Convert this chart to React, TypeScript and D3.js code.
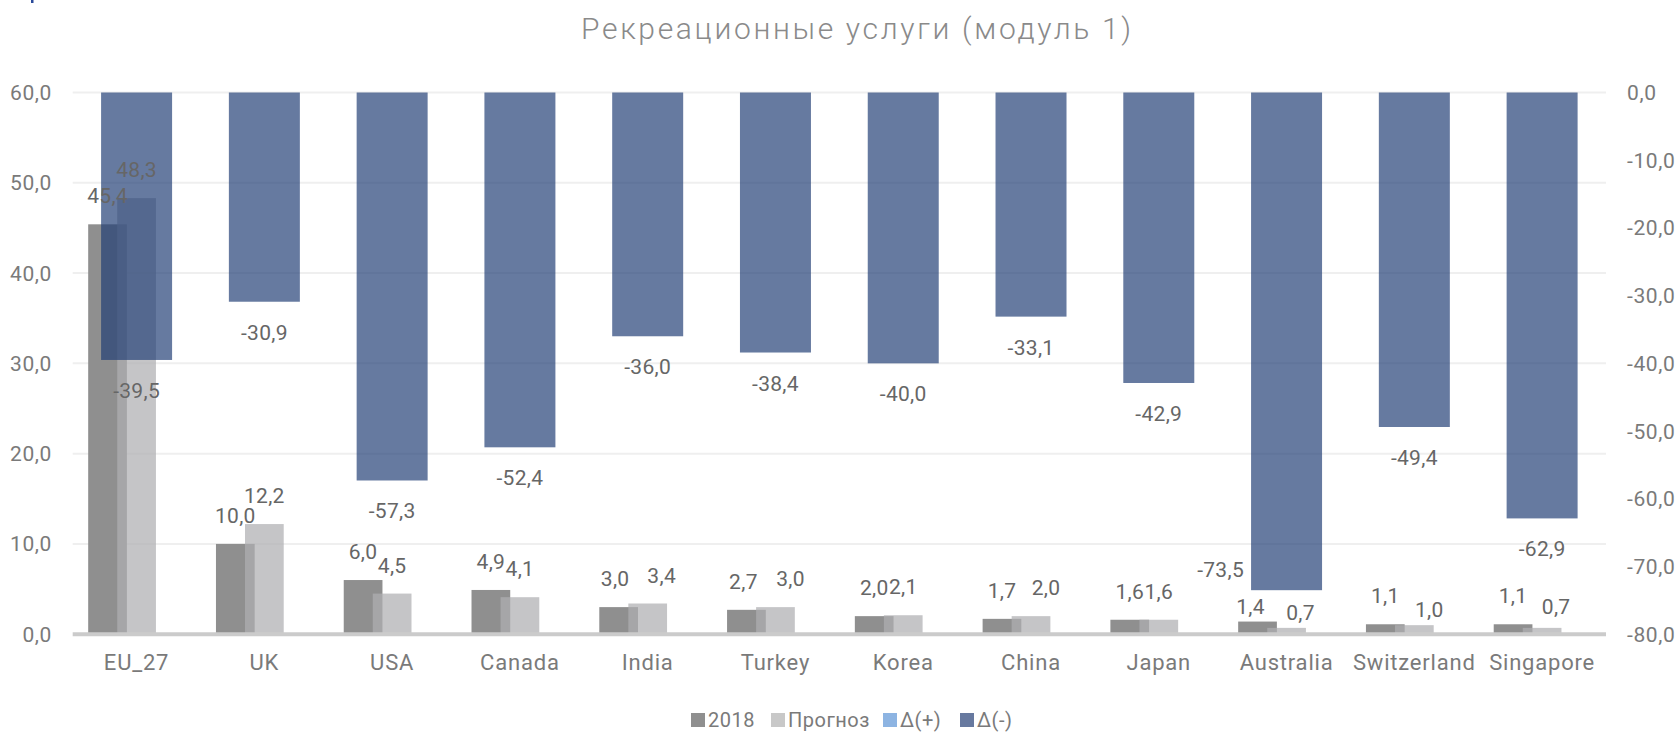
import React from "react";
import * as d3 from "d3";

const categories = ["EU_27", "UK", "USA", "Canada", "India", "Turkey", "Korea", "China", "Japan", "Australia", "Switzerland", "Singapore"];
const values2018 = [45.4, 10.0, 6.0, 4.9, 3.0, 2.7, 2.0, 1.7, 1.6, 1.4, 1.1, 1.1];
const valuesForecast = [48.3, 12.2, 4.5, 4.1, 3.4, 3.0, 2.1, 2.0, 1.6, 0.7, 1.0, 0.7];
const valuesDeltaPlus: (number | null)[] = [null, null, null, null, null, null, null, null, null, null, null, null];
const valuesDeltaMinus = [-39.5, -30.9, -57.3, -52.4, -36.0, -38.4, -40.0, -33.1, -42.9, -73.5, -49.4, -62.9];
const leftTicks = [0, 10, 20, 30, 40, 50, 60];
const rightTicks = [0, -10, -20, -30, -40, -50, -60, -70, -80];
const title = "Рекреационные услуги (модуль 1)";
const legendNames = ["2018", "Прогноз", "Δ(+)", "Δ(-)"];

// layout / style (not data)
const W = 1678, H = 732;
const plotLeft = 72.7, plotRight = 1606, plotTop = 92.5, plotBottom = 634.2;
const colors = { y2018: "#8f8f8f", forecast: "#afafb2", plus: "#8db4e2", minus: "#223e75" };
const legendColors = ["#8f8f8f", "#c8c8c8", "#8db4e2", "#67799f"];
const labelColor = "#666666";
const axisColor = "#7a7a7a";
const font = "Roboto, 'Noto Sans', sans-serif";

// manual label nudges (layout)
const nudge: Record<string, { dx?: number; dy?: number }> = {
  "2018|India": { dx: -3.5 },
  "2018|Turkey": { dx: -3 },
  "2018|Australia": { dx: -7, dy: 13 },
  "f|India": { dx: 14 },
  "f|Turkey": { dx: 15 },
  "f|China": { dx: 15 },
  "f|Australia": { dx: 14, dy: 13 },
  "f|Switzerland": { dx: 15, dy: 13 },
  "f|Singapore": { dx: 14, dy: 7 },
  "d|Australia": { dx: -66, dy: -51 },
};

const fmt = (v: number) => v.toFixed(1).replace(".", ",");

export default function App() {
  const x = d3.scaleBand<string>().domain(categories).range([plotLeft, plotRight]).paddingInner(0).paddingOuter(0);
  const yL = d3.scaleLinear().domain([0, 60]).range([plotBottom, plotTop]);
  const yR = d3.scaleLinear().domain([-80, 0]).range([plotBottom, plotTop]);
  const bw = x.bandwidth();
  const gap = 0.8, overlap = 0.25, nPrim = 3;
  const w1 = bw / (nPrim - (nPrim - 1) * overlap + gap);
  const step = w1 * (1 - overlap);
  const w2 = bw / (1 + gap);
  const cx = (c: string) => (x(c) as number) + bw / 2;
  const primCenter = (c: string, i: number) => cx(c) + (i - 1) * step;

  const primSeries = [
    { key: "2018", vals: values2018 as (number | null)[], fill: colors.y2018, op: 1 },
    { key: "f", vals: valuesForecast as (number | null)[], fill: colors.forecast, op: 0.72 },
    { key: "p", vals: valuesDeltaPlus, fill: colors.plus, op: 1 },
  ];

  return (
    <svg width={W} height={H} style={{ position: "absolute", left: 0, top: 0, background: "#fff" }} fontFamily={font}>
      <rect x={31} y={0} width={2.5} height={3} fill="#2a4a9a" />
      <text x={856} y={39} textAnchor="middle" fontSize={30} fontWeight={300} fill="#8a8a8a" textLength={550} lengthAdjust="spacing">{title}</text>

      {leftTicks.filter((t) => t !== 0).map((t) => (
        <line key={"g" + t} x1={plotLeft} x2={plotRight} y1={yL(t)} y2={yL(t)} stroke="#efefef" strokeWidth={2} />
      ))}

      {primSeries.map((s, si) =>
        categories.map((c, i) => {
          const v = s.vals[i];
          if (v == null) return null;
          return (
            <rect key={s.key + c} x={primCenter(c, si) - w1 / 2} y={yL(v)} width={w1} height={yL(0) - yL(v)} fill={s.fill} fillOpacity={s.op} />
          );
        })
      )}

      <line x1={plotLeft} x2={plotRight} y1={plotBottom} y2={plotBottom} stroke="#cbcbcb" strokeWidth={4} />

      {categories.map((c, i) => (
        <rect key={"d" + c} x={cx(c) - w2 / 2} y={yR(0)} width={w2} height={yR(valuesDeltaMinus[i]) - yR(0)} fill={colors.minus} fillOpacity={0.69} />
      ))}

      {leftTicks.map((t) => (
        <text key={"lt" + t} x={52} y={yL(t)} dy="0.36em" textAnchor="end" fontSize={21} fill={axisColor} letterSpacing={0.6}>{fmt(t)}</text>
      ))}
      {rightTicks.map((t) => (
        <text key={"rt" + t} x={1627} y={yR(t)} dy="0.36em" textAnchor="start" fontSize={21} fill={axisColor} letterSpacing={0.6}>{fmt(t)}</text>
      ))}
      {categories.map((c) => (
        <text key={"xl" + c} x={cx(c)} y={670} textAnchor="middle" fontSize={22} fill={axisColor} letterSpacing={0.8}>{c}</text>
      ))}

      {[0, 1].map((si) =>
        categories.map((c, i) => {
          const s = primSeries[si];
          const v = s.vals[i] as number;
          const n = nudge[s.key + "|" + c] || {};
          return (
            <text key={"lb" + s.key + c} x={primCenter(c, si) + (n.dx || 0)} y={yL(v) - 21 + (n.dy || 0)} textAnchor="middle" fontSize={21} fill={labelColor} letterSpacing={0.3}>{fmt(v)}</text>
          );
        })
      )}
      {categories.map((c, i) => {
        const v = valuesDeltaMinus[i];
        const n = nudge["d|" + c] || {};
        return (
          <text key={"ld" + c} x={cx(c) + (n.dx || 0)} y={yR(v) + 38 + (n.dy || 0)} textAnchor="middle" fontSize={21} fill={labelColor} letterSpacing={0.3}>{fmt(v)}</text>
        );
      })}

      {(() => {
        const pos = [691, 771, 883, 960];
        return legendNames.map((name, i) => (
          <g key={"lg" + i}>
            <rect x={pos[i]} y={713} width={14} height={14} fill={legendColors[i]} />
            <text x={pos[i] + 17} y={727} fontSize={20} fill={axisColor} letterSpacing={0.5}>{name}</text>
          </g>
        ));
      })()}
    </svg>
  );
}
